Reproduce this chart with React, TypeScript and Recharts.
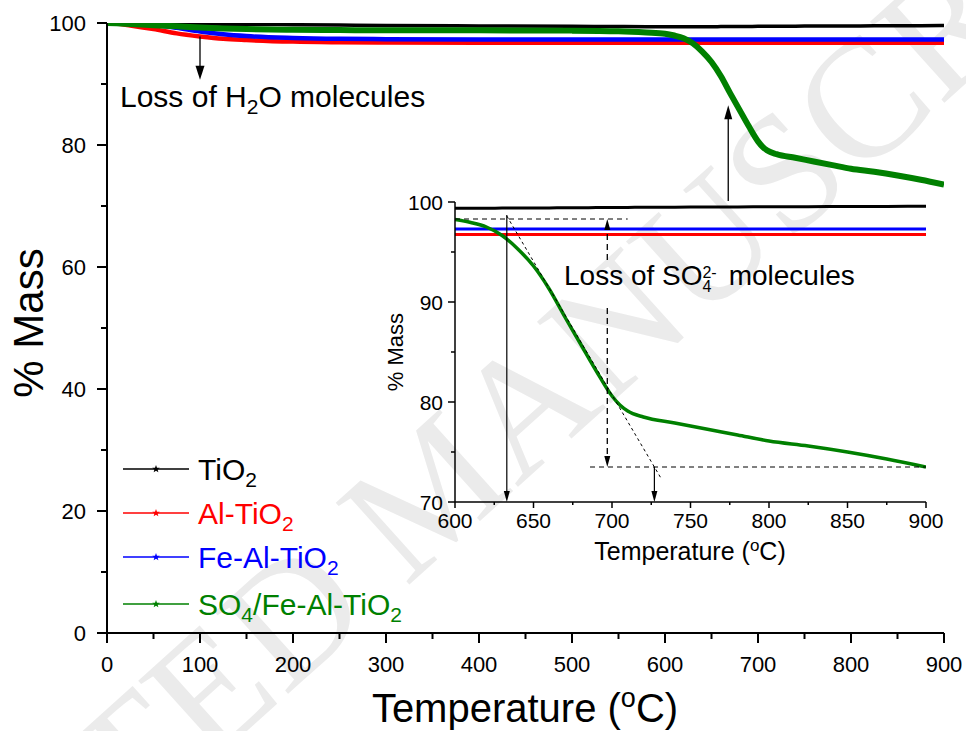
import React from 'react';
import { LineChart, Line, XAxis, YAxis, ReferenceLine, Legend } from 'recharts';

// ---------- data ----------
const temps = [0, 10, 25, 50, 75, 100, 125, 150, 200, 250, 300, 400, 500, 550, 580, 600, 610, 620, 630, 640, 650, 660, 670, 680, 690, 700, 705, 710, 720, 740, 760, 780, 800, 825, 850, 875, 900];
const tio2 = [100, 100, 99.98, 99.95, 99.9, 99.85, 99.8, 99.78, 99.72, 99.66, 99.6, 99.52, 99.45, 99.42, 99.4, 99.38, 99.38, 99.38, 99.39, 99.4, 99.4, 99.41, 99.42, 99.43, 99.44, 99.45, 99.45, 99.46, 99.47, 99.48, 99.5, 99.51, 99.52, 99.53, 99.55, 99.56, 99.58];
const alTio2 = [100, 99.9, 99.6, 99.0, 98.3, 97.8, 97.4, 97.2, 96.95, 96.85, 96.8, 96.75, 96.75, 96.75, 96.75, 96.75, 96.75, 96.75, 96.75, 96.75, 96.75, 96.75, 96.75, 96.75, 96.75, 96.75, 96.75, 96.75, 96.75, 96.75, 96.75, 96.75, 96.75, 96.75, 96.75, 96.75, 96.75];
const feAlTio2 = [100, 100, 99.95, 99.7, 99.2, 98.6, 98.15, 97.85, 97.55, 97.4, 97.35, 97.3, 97.3, 97.3, 97.3, 97.3, 97.3, 97.3, 97.3, 97.3, 97.3, 97.3, 97.3, 97.3, 97.3, 97.3, 97.3, 97.3, 97.3, 97.3, 97.3, 97.3, 97.3, 97.3, 97.3, 97.3, 97.3];
const so4FeAlTio2 = [100, 99.95, 99.85, 99.65, 99.45, 99.25, 99.1, 99.0, 98.9, 98.85, 98.8, 98.8, 98.75, 98.65, 98.45, 98.25, 97.95, 97.5, 96.65, 95.3, 93.6, 91.3, 88.5, 85.8, 83.1, 80.6, 79.7, 79.1, 78.5, 77.9, 77.3, 76.7, 76.1, 75.6, 75.0, 74.3, 73.5];

const seriesNames = ['TiO2', 'Al-TiO2', 'Fe-Al-TiO2', 'SO4/Fe-Al-TiO2'];
const seriesColors = ['#000000', '#ff0000', '#0000ff', '#008000'];

const mainXTicks = [0, 50, 100, 150, 200, 250, 300, 350, 400, 450, 500, 550, 600, 650, 700, 750, 800, 850, 900];
const mainYTicks = [0, 10, 20, 30, 40, 50, 60, 70, 80, 90, 100];
const insetXTicks = [600, 625, 650, 675, 700, 725, 750, 775, 800, 825, 850, 875, 900];
const insetYTicks = [70, 75, 80, 85, 90, 95, 100];

const mainData = temps.map((t, i) => ({ t, tio2: tio2[i], al: alTio2[i], fe: feAlTio2[i], so4: so4FeAlTio2[i] }));
const insetData = mainData.filter((d) => d.t >= 600);

const FONT = "'Liberation Sans', Arial, Helvetica, sans-serif";

// ---------- helpers ----------
const chemTspans = (name: string, subSize: number, shift: number) => {
  const parts = name.split(/(\d)/).filter((s) => s.length > 0);
  const out: any[] = [];
  let sub = false;
  parts.forEach((p, i) => {
    const isDigit = /^\d$/.test(p);
    if (isDigit) {
      out.push(<tspan key={i} fontSize={subSize} dy={sub ? 0 : shift}>{p}</tspan>);
      sub = true;
    } else {
      out.push(<tspan key={i} dy={sub ? -shift : 0}>{p}</tspan>);
      sub = false;
    }
  });
  return out;
};

const starPoints = (cx: number, cy: number, r: number) => {
  const pts: string[] = [];
  for (let i = 0; i < 10; i++) {
    const rr = i % 2 === 0 ? r : r * 0.42;
    const a = -Math.PI / 2 + (i * Math.PI) / 5;
    pts.push(`${cx + rr * Math.cos(a)},${cy + rr * Math.sin(a)}`);
  }
  return pts.join(' ');
};

const arrowShape = (opts: { head: boolean; dash?: string; w?: number; hw?: number; hl?: number }) => (p: any) => {
  const { x1, y1, x2, y2 } = p;
  const w = opts.w ?? 1.2;
  const hw = opts.hw ?? 8;
  const hl = opts.hl ?? 13;
  const dx = x2 - x1;
  const dy = y2 - y1;
  const len = Math.hypot(dx, dy) || 1;
  const ux = dx / len;
  const uy = dy / len;
  const ex = opts.head ? x2 - ux * hl * 0.8 : x2;
  const ey = opts.head ? y2 - uy * hl * 0.8 : y2;
  const bx = x2 - ux * hl;
  const by = y2 - uy * hl;
  return (
    <g>
      <line x1={x1} y1={y1} x2={ex} y2={ey} stroke="#000" strokeWidth={w} strokeDasharray={opts.dash} />
      {opts.head && (
        <polygon
          points={`${x2},${y2} ${bx - (uy * hw) / 2},${by + (ux * hw) / 2} ${bx + (uy * hw) / 2},${by - (ux * hw) / 2}`}
          fill="#000"
        />
      )}
    </g>
  );
};

// ---------- ticks ----------
const MainXTick = (props: any) => {
  const { x, y, payload } = props;
  const major = payload.value % 100 === 0;
  return (
    <g>
      <line x1={x} y1={y} x2={x} y2={y + (major ? 10 : 6)} stroke="#000" strokeWidth={2} />
      {major && (
        <text x={x} y={y + 39} textAnchor="middle" fontSize={22} fontFamily={FONT} fill="#000">
          {payload.value}
        </text>
      )}
    </g>
  );
};

const MainYTick = (props: any) => {
  const { x, y, payload } = props;
  const major = payload.value % 20 === 0;
  return (
    <g>
      <line x1={x} y1={y} x2={x - (major ? 10 : 6)} y2={y} stroke="#000" strokeWidth={2} />
      {major && (
        <text x={x - 21} y={y + 8} textAnchor="end" fontSize={22} fontFamily={FONT} fill="#000">
          {payload.value}
        </text>
      )}
    </g>
  );
};

const InsetXTick = (props: any) => {
  const { x, y, payload } = props;
  const major = payload.value % 50 === 0;
  return (
    <g>
      <line x1={x} y1={y} x2={x} y2={y + (major ? 6 : 3)} stroke="#000" strokeWidth={1.5} />
      {major && (
        <text x={x} y={y + 26} textAnchor="middle" fontSize={21} fontFamily={FONT} fill="#000">
          {payload.value}
        </text>
      )}
    </g>
  );
};

const InsetYTick = (props: any) => {
  const { x, y, payload } = props;
  const major = payload.value % 10 === 0;
  return (
    <g>
      <line x1={x} y1={y} x2={x - (major ? 7 : 4)} y2={y} stroke="#000" strokeWidth={1.5} />
      {major && (
        <text x={x - 12} y={y + 8} textAnchor="end" fontSize={21} fontFamily={FONT} fill="#000">
          {payload.value}
        </text>
      )}
    </g>
  );
};

const LegendContent = () => (
  <svg width={340} height={185} style={{ overflow: 'visible' }}>
    {seriesNames.map((n, i) => {
      const rowY = [23, 67, 111, 158][i];
      return (
        <g key={n}>
          <line x1={8} y1={rowY} x2={74} y2={rowY} stroke={seriesColors[i]} strokeWidth={1.3} />
          <polygon points={starPoints(41, rowY, 4)} fill={seriesColors[i]} />
          <text x={83} y={rowY + 11} fontSize={30} fontFamily={FONT} fill={seriesColors[i]}>
            {chemTspans(n, 21, 7)}
          </text>
        </g>
      );
    })}
  </svg>
);

const axisStyle = { stroke: '#000', strokeWidth: 2 };
const insetAxisStyle = { stroke: '#000', strokeWidth: 1.5 };

export default function App() {
  return (
    <div style={{ position: 'absolute', left: 0, top: 0, width: 966, height: 731, background: '#fff', overflow: 'hidden' }}>
      {/* watermark */}
      <svg width={966} height={731} style={{ position: 'absolute', left: 0, top: 0 }}>
        <text
          x={470}
          y={530}
          textAnchor="middle"
          fontSize={168}
          fontFamily="'Liberation Serif', 'Times New Roman', serif"
          fill="#ebebeb"
          transform="rotate(-42 470 530)"
        >
          ACCEPTED MANUSCRIPT
        </text>
      </svg>

      {/* main chart */}
      <div style={{ position: 'absolute', left: 0, top: 0 }}>
        <LineChart width={966} height={731} data={mainData} margin={{ top: 23, right: 22, bottom: 0, left: 0 }}>
          <XAxis
            dataKey="t"
            type="number"
            domain={[0, 900]}
            ticks={mainXTicks}
            interval={0}
            height={98}
            tickSize={0}
            tickMargin={0}
            tickLine={false}
            tick={(p: any) => <MainXTick {...p} />}
            axisLine={axisStyle}
            allowDataOverflow
          />
          <XAxis xAxisId="top" orientation="top" type="number" domain={[0, 900]} height={0} tick={false} tickLine={false} axisLine={axisStyle} />
          <YAxis
            type="number"
            domain={[0, 100]}
            ticks={mainYTicks}
            interval={0}
            width={107}
            tickSize={0}
            tickMargin={0}
            tickLine={false}
            tick={(p: any) => <MainYTick {...p} />}
            axisLine={axisStyle}
            allowDataOverflow
          />
          <YAxis yAxisId="right" orientation="right" type="number" domain={[0, 100]} width={0} tick={false} tickLine={false} axisLine={axisStyle} />
          <Line dataKey="tio2" name={seriesNames[0]} stroke={seriesColors[0]} strokeWidth={3.5} dot={false} type="monotone" isAnimationActive={false} />
          <Line dataKey="al" name={seriesNames[1]} stroke={seriesColors[1]} strokeWidth={4.5} dot={false} type="monotone" isAnimationActive={false} />
          <Line dataKey="fe" name={seriesNames[2]} stroke={seriesColors[2]} strokeWidth={4.5} dot={false} type="monotone" isAnimationActive={false} />
          <Line dataKey="so4" name={seriesNames[3]} stroke={seriesColors[3]} strokeWidth={6} dot={false} type="monotone" isAnimationActive={false} />
          <ReferenceLine segment={[{ x: 100, y: 97.8 }, { x: 100, y: 90.7 }]} ifOverflow="visible" shape={arrowShape({ head: true, w: 1.3, hw: 9, hl: 14 })} />
          <ReferenceLine segment={[{ x: 668, y: 70.8 }, { x: 668, y: 86.5 }]} ifOverflow="visible" shape={arrowShape({ head: true, w: 1.3, hw: 8, hl: 14 })} />
          <Legend
            layout="vertical"
            align="center"
            verticalAlign="middle"
            content={() => <LegendContent />}
            wrapperStyle={{ position: 'absolute', left: 115, top: 446, width: 340, height: 185 }}
          />
        </LineChart>
      </div>

      {/* inset chart */}
      <div style={{ position: 'absolute', left: 350, top: 175 }}>
        <LineChart width={616} height={391} data={insetData} margin={{ top: 27, right: 40, bottom: 0, left: 0 }}>
          <XAxis
            dataKey="t"
            type="number"
            domain={[600, 900]}
            ticks={insetXTicks}
            interval={0}
            height={64}
            tickSize={0}
            tickMargin={0}
            tickLine={false}
            tick={(p: any) => <InsetXTick {...p} />}
            axisLine={insetAxisStyle}
            allowDataOverflow
          />
          <XAxis xAxisId="top" orientation="top" type="number" domain={[600, 900]} height={0} tick={false} tickLine={false} axisLine={insetAxisStyle} />
          <YAxis
            type="number"
            domain={[70, 100]}
            ticks={insetYTicks}
            interval={0}
            width={105}
            tickSize={0}
            tickMargin={0}
            tickLine={false}
            tick={(p: any) => <InsetYTick {...p} />}
            axisLine={insetAxisStyle}
            allowDataOverflow
          />
          <YAxis yAxisId="right" orientation="right" type="number" domain={[70, 100]} width={0} tick={false} tickLine={false} axisLine={insetAxisStyle} />
          <Line dataKey="tio2" stroke={seriesColors[0]} strokeWidth={3} dot={false} type="monotone" isAnimationActive={false} />
          <Line dataKey="al" stroke={seriesColors[1]} strokeWidth={3} dot={false} type="monotone" isAnimationActive={false} />
          <Line dataKey="fe" stroke={seriesColors[2]} strokeWidth={3} dot={false} type="monotone" isAnimationActive={false} />
          <Line dataKey="so4" stroke={seriesColors[3]} strokeWidth={3.5} dot={false} type="monotone" isAnimationActive={false} />
          <ReferenceLine segment={[{ x: 600, y: 98.3 }, { x: 710, y: 98.3 }]} ifOverflow="visible" shape={arrowShape({ head: false, dash: '5 4', w: 1 })} />
          <ReferenceLine segment={[{ x: 633, y: 98.7 }, { x: 633, y: 70 }]} ifOverflow="visible" shape={arrowShape({ head: true, w: 1.2, hw: 6, hl: 11 })} />
          <ReferenceLine segment={[{ x: 633, y: 98.6 }, { x: 731.5, y: 72.3 }]} ifOverflow="visible" shape={arrowShape({ head: false, dash: '3 3', w: 1 })} />
          <ReferenceLine segment={[{ x: 697, y: 94.2 }, { x: 697, y: 98.3 }]} ifOverflow="visible" shape={arrowShape({ head: true, dash: '6 4', w: 1.3, hw: 6, hl: 11 })} />
          <ReferenceLine segment={[{ x: 697, y: 89.4 }, { x: 697, y: 73.5 }]} ifOverflow="visible" shape={arrowShape({ head: true, dash: '6 4', w: 1.3, hw: 6, hl: 11 })} />
          <ReferenceLine segment={[{ x: 686, y: 73.5 }, { x: 900, y: 73.5 }]} ifOverflow="visible" shape={arrowShape({ head: false, dash: '5 4', w: 1 })} />
          <ReferenceLine segment={[{ x: 727, y: 73.5 }, { x: 727, y: 70 }]} ifOverflow="visible" shape={arrowShape({ head: true, w: 1.2, hw: 6, hl: 11 })} />
        </LineChart>
      </div>

      {/* text overlay */}
      <svg width={966} height={731} style={{ position: 'absolute', left: 0, top: 0, pointerEvents: 'none' }}>
        <text x={120} y={107} fontSize={30} fontFamily={FONT} fill="#000">
          <tspan>Loss of H</tspan>
          <tspan fontSize={21} dy={7}>2</tspan>
          <tspan dy={-7}>O molecules</tspan>
        </text>
        <text x={564} y={285} fontSize={28} fontFamily={FONT} fill="#000">
          <tspan>Loss of SO</tspan>
          <tspan fontSize={16} dy={7}>4</tspan>
          <tspan fontSize={16} dx={-9} dy={-14}>2-</tspan>
          <tspan dx={12} dy={7}>molecules</tspan>
        </text>
        <text x={525} y={722} textAnchor="middle" fontSize={40} fontFamily={FONT} fill="#000">
          <tspan>Temperature (</tspan>
          <tspan fontSize={27} dy={-15}>o</tspan>
          <tspan dy={15}>C)</tspan>
        </text>
        <text x={43} y={323} textAnchor="middle" fontSize={42} fontFamily={FONT} fill="#000" transform="rotate(-90 43 323)">
          % Mass
        </text>
        <text x={690} y={560} textAnchor="middle" fontSize={25} fontFamily={FONT} fill="#000">
          <tspan>Temperature (</tspan>
          <tspan fontSize={17} dy={-9}>o</tspan>
          <tspan dy={9}>C)</tspan>
        </text>
        <text x={403} y={352} textAnchor="middle" fontSize={22} fontFamily={FONT} fill="#000" transform="rotate(-90 403 352)">
          % Mass
        </text>
      </svg>
    </div>
  );
}
